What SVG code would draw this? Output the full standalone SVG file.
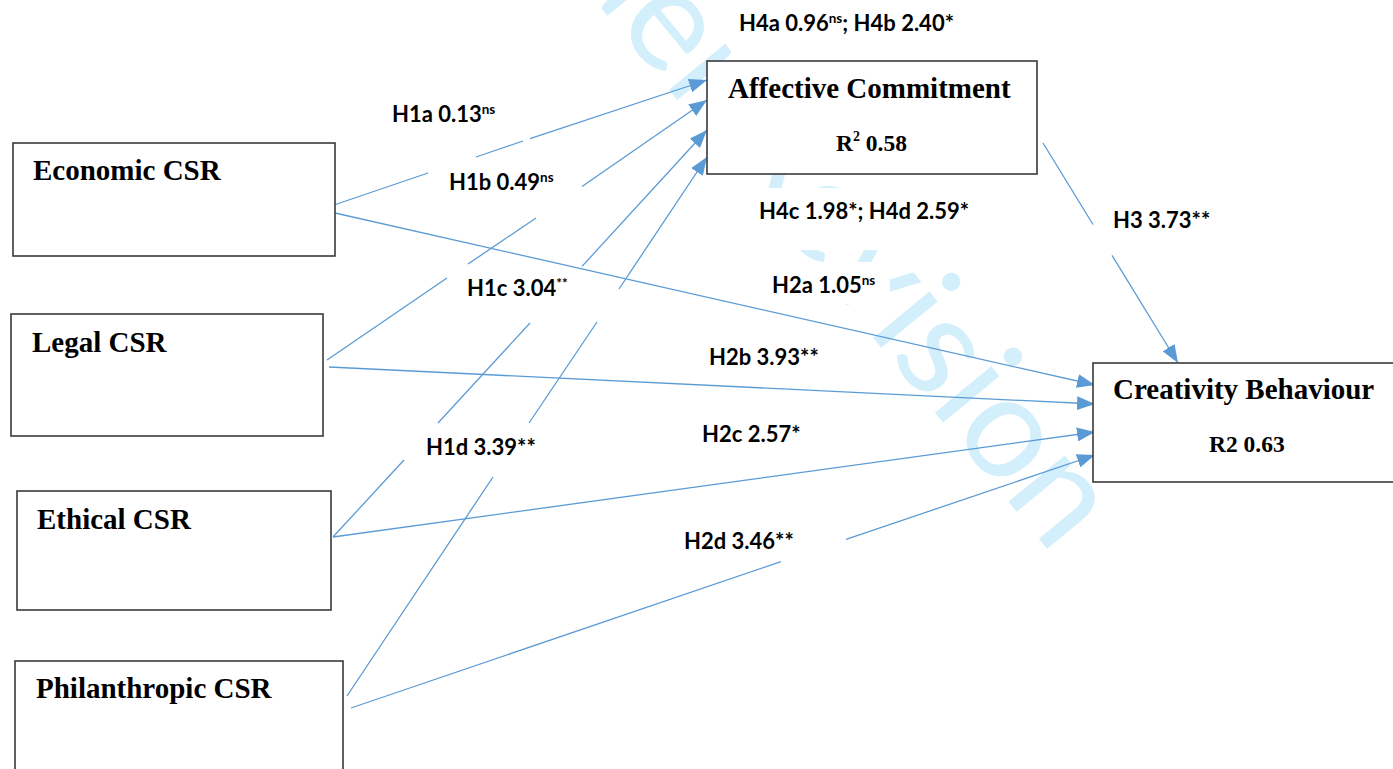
<svg xmlns="http://www.w3.org/2000/svg" width="1393" height="769" viewBox="0 0 1393 769">
<defs>
<style>
.box{fill:#fff;stroke:#3a3a3a;stroke-width:1.6}
.nt{font-family:"Liberation Serif","Times New Roman",serif;font-weight:bold;font-size:29px;fill:#000}
.r2{font-family:"Liberation Serif","Times New Roman",serif;font-weight:bold;font-size:23.5px;fill:#000}
.lb{font-family:Lato,"Liberation Sans",sans-serif;font-weight:bold;font-size:22px;fill:#000}
.mask{fill:#fff}
.c{fill:none;stroke:#5b9bd5;stroke-width:1.3}
.wm{font-family:Lato,"Liberation Sans",sans-serif;font-size:144px;fill:#d3effc}
</style>
<marker id="ah" markerUnits="userSpaceOnUse" markerWidth="18" markerHeight="14" refX="18" refY="7" orient="auto">
<path d="M0,0 L18,7 L0,14 z" fill="#5b9bd5"/>
</marker>
</defs>
<rect width="1393" height="769" fill="#fff"/>
<g id="watermark">
<text class="wm" text-anchor="end" transform="translate(1053,556) rotate(50.5)">Under Revision</text>
</g>
<g id="label-masks">
<rect class="mask" x="745" y="188" width="240" height="62"/>
<rect class="mask" x="755" y="262" width="135" height="42"/>
</g>
<g id="connectors">
<path class="c" marker-end="url(#ah)" d="M334,205 L428,173 M476,157 L523,141 M530,138.7 L707,80"/>
<path class="c" marker-end="url(#ah)" d="M327,360 L447,278 M468,264 L536,218 M582,186.5 L707,100"/>
<path class="c" marker-end="url(#ah)" d="M333,537 L404,460 M438,423 L530,323 M582,266.4 L707,130"/>
<path class="c" marker-end="url(#ah)" d="M347,696 L493,477 M529,423 L597,322 M619,289 L707,157"/>
<path class="c" marker-end="url(#ah)" d="M335,213 L1095,385"/>
<path class="c" marker-end="url(#ah)" d="M329,367 L1095,404"/>
<path class="c" marker-end="url(#ah)" d="M333,537 L1095,432"/>
<path class="c" marker-end="url(#ah)" d="M351,708 L781,561.6 M846,539.4 L1095,455"/>
<path class="c" marker-end="url(#ah)" d="M1043,143 L1093,224.5 M1112,255.4 L1178,363"/>
</g>
<g id="n-economic"><rect class="box" x="13" y="143" width="322" height="113"/><text class="nt" x="33" y="180">Economic CSR</text></g>
<g id="n-legal"><rect class="box" x="11" y="314" width="312" height="122"/><text class="nt" x="32" y="352">Legal CSR</text></g>
<g id="n-ethical"><rect class="box" x="17" y="491" width="314" height="119"/><text class="nt" x="37" y="529">Ethical CSR</text></g>
<g id="n-philanthropic"><rect class="box" x="15" y="661" width="328" height="120"/><text class="nt" x="36" y="698">Philanthropic CSR</text></g>
<g id="n-affective"><rect class="box" x="707" y="61" width="330" height="113"/><text class="nt" x="728" y="98">Affective Commitment</text><text class="r2" x="836" y="151">R<tspan font-size="14" dy="-10">2</tspan><tspan dy="10"> 0.58</tspan></text></g>
<g id="n-creativity"><rect class="box" x="1093" y="363" width="310" height="119"/><text class="nt" x="1113" y="399">Creativity Behaviour</text><text class="r2" x="1209" y="452">R2 0.63</text></g>
<g id="labels">
<text class="lb" x="739" y="31">H4a 0.96<tspan font-size="13.5" dy="-8">ns</tspan><tspan dy="8">; H4b 2.40*</tspan></text>
<text class="lb" x="392" y="122">H1a 0.13<tspan font-size="13.5" dy="-8">ns</tspan></text>
<text class="lb" x="449" y="190">H1b 0.49<tspan font-size="13.5" dy="-8">ns</tspan></text>
<text class="lb" x="467" y="296">H1c 3.04<tspan font-size="13.5" dy="-8">**</tspan></text>
<text class="lb" x="759" y="219">H4c 1.98*; H4d 2.59*</text>
<text class="lb" x="772" y="293">H2a 1.05<tspan font-size="13.5" dy="-8">ns</tspan></text>
<text class="lb" x="709" y="365">H2b 3.93**</text>
<text class="lb" x="1113" y="228">H3 3.73**</text>
<text class="lb" x="426" y="455">H1d 3.39**</text>
<text class="lb" x="702" y="442">H2c 2.57*</text>
<text class="lb" x="684" y="549">H2d 3.46**</text>
</g>
</svg>
